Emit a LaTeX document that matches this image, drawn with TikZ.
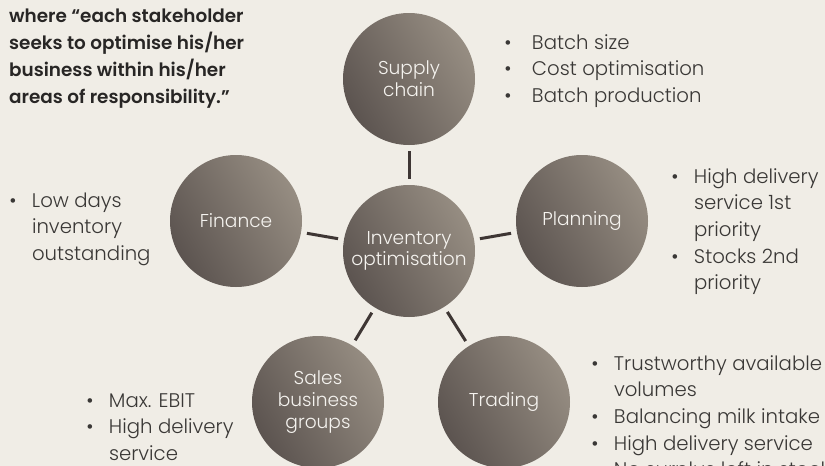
\documentclass[tikz,border=0pt]{standalone}
\usepackage{fontspec}
\usepackage{graphicx}
\setmainfont{Poppins}[UprightFont={* Light}, BoldFont={* SemiBold}]

\definecolor{paper}{RGB}{240,237,230}
\definecolor{circdark}{RGB}{92,84,80}
\definecolor{circlight}{RGB}{150,141,130}
\definecolor{linkc}{RGB}{62,54,52}
\definecolor{inktext}{RGB}{58,56,54}
\definecolor{headtext}{RGB}{40,38,37}
\definecolor{circtext}{RGB}{245,243,239}

% bullet hung to the left of a list line
\newcommand\bul[1][19pt]{\llap{\makebox[0pt][c]{\textbullet}\hspace{#1}}}
\newcommand\listfont{\fontsize{19.7}{26.7}\selectfont}
\newcommand\hubfont{\fontsize{18.6}{21.7}\selectfont}
\newcommand\headfont{\fontsize{18.4}{27}\selectfont\bfseries}

\begin{document}
\begin{tikzpicture}[x=1pt,y=-1pt,
  hub/.style={circle, minimum size=132pt, inner sep=0pt, outer sep=0pt,
    top color=circlight, bottom color=circdark, shading angle=-60,
    text=circtext, font=\hubfont, align=center},
  link/.style={line width=3pt, draw=linkc, shorten >=6pt, shorten <=6pt},
  bullets/.style={anchor=base west, inner sep=0pt, outer sep=0pt,
    text=inktext, font=\listfont}]

\fill[paper] (0,0) rectangle (825,466);
\useasboundingbox (0,0) rectangle (825,466);
\clip (0,0) rectangle (825,466);

% the five stakeholders around inventory optimisation
\node[hub] (inv) at (409,251) {Inventory\\optimisation};
\node[hub] (sup) at (409,79) {Supply\\chain};
\node[hub] (plan) at (582,221) {Planning};
\node[hub] (fin) at (236,221) {Finance};
\node[hub] (sales) at (318,402) {Sales\\business\\groups};
\node[hub] (trade) at (504,402) {Trading};

\draw[link] (sup) -- (inv);
\draw[link] (inv) -- (plan);
\draw[link] (fin) -- (inv);
\draw[link] (inv) -- (sales);
\draw[link] (inv) -- (trade);

% quotation
\node[anchor=base west, inner sep=0pt, text=headtext, font=\headfont] (quote) at (9,22)
  {\begin{tabular}[t]{@{}l@{}}where “each stakeholder\\seeks to optimise his/her\\business within his/her\\areas of responsibility.”\end{tabular}};

% priorities of each stakeholder
\node[bullets] (supList) at (532,49)
  {\begin{tabular}[t]{@{}l@{}}\bul[24pt]Batch size\\\bul[24pt]Cost optimisation\\\bul[24pt]Batch production\end{tabular}};
\node[bullets] (planList) at (694,183)
  {\begin{tabular}[t]{@{}l@{}}\bul High delivery\\service 1st\\priority\\\bul Stocks 2nd\\priority\end{tabular}};
\node[bullets] (finList) at (32,207)
  {\begin{tabular}[t]{@{}l@{}}\bul Low days\\inventory\\outstanding\end{tabular}};
\node[bullets] (salesList) at (109,407)
  {\begin{tabular}[t]{@{}l@{}}\bul Max. EBIT\\\bul High delivery\\service\end{tabular}};
\node[bullets] (tradeList) at (614,370)
  {\begin{tabular}[t]{@{}l@{}}\bul Trustworthy available\\volumes\\\bul Balancing milk intake\\\bul High delivery service\\\bul No surplus left in stock\end{tabular}};

\end{tikzpicture}
\end{document}
